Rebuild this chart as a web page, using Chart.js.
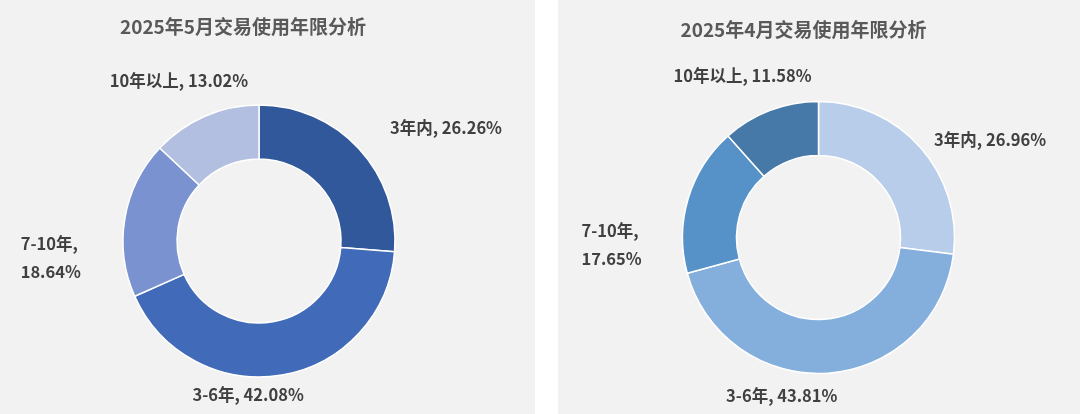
<!DOCTYPE html>
<html>
<head>
<meta charset="utf-8">
<script src="https://cdn.jsdelivr.net/npm/chart.js@4.4.1/dist/chart.umd.min.js"></script>
<style>
  html, body { margin:0; padding:0; background:#ffffff; }
  body { width:1080px; height:414px; position:relative; overflow:hidden; }
  .panel { position:absolute; top:0; height:414px; background:#F2F2F2; }
  #p1 { left:0; width:535px; }
  #p2 { left:558px; width:522px; }
  canvas { display:block; }
</style>
</head>
<body>
<div class="panel" id="p1"><canvas id="c1" width="535" height="414"></canvas></div>
<div class="panel" id="p2"><canvas id="c2" width="522" height="414"></canvas></div>
<script>
const categories = ['3年内', '3-6年', '7-10年', '10年以上'];
const mayValues = [26.26, 42.08, 18.64, 13.02];
const aprValues = [26.96, 43.81, 17.65, 11.58];
const mayTitle = '2025年5月交易使用年限分析';
const aprTitle = '2025年4月交易使用年限分析';

const mayColors = ['#31589A', '#416BB8', '#7A92D0', '#B3BFE0'];
const aprColors = ['#B8CDE9', '#84AEDC', '#5692C8', '#4779A8'];

const FONT = '"Noto Sans CJK SC", "Microsoft YaHei", sans-serif';

// label anchors, relative to donut center in units of outer radius
const mayLabelLayout = [
  {fx: 0.963, fy: -0.83, align: 'left', split: false},
  {fx: -0.08, fy: 1.13, align: 'center', split: false},
  {fx: -1.31, fy: 0.12, align: 'right', split: true},
  {fx: -0.08, fy: -1.175, align: 'right', split: false}
];
const aprLabelLayout = [
  {fx: 0.85, fy: -0.72, align: 'left', split: false},
  {fx: -0.27, fy: 1.16, align: 'center', split: false},
  {fx: -1.30, fy: 0.05, align: 'right', split: true},
  {fx: -0.05, fy: -1.19, align: 'right', split: false}
];

function labelPlugin(title, layout, titleDX, titleY) {
  return {
    id: 'customLabels',
    afterDraw(chart) {
      const ctx = chart.ctx;
      const meta = chart.getDatasetMeta(0);
      const arc0 = meta.data[0];
      const cx = arc0.x, cy = arc0.y, r = arc0.outerRadius;
      ctx.save();
      ctx.fillStyle = '#595959';
      ctx.font = 'bold 19px ' + FONT;
      ctx.textAlign = 'center';
      ctx.textBaseline = 'middle';
      ctx.fillText(title, cx + titleDX, titleY);
      ctx.fillStyle = '#404040';
      ctx.font = 'bold 16.5px ' + FONT;
      const data = chart.data.datasets[0].data;
      meta.data.forEach((arc, i) => {
        const L = layout[i];
        const x = cx + L.fx * r;
        const y = cy + L.fy * r;
        const name = chart.data.labels[i];
        const val = data[i].toFixed(2) + '%';
        ctx.textAlign = L.align;
        if (L.split) {
          ctx.textAlign = 'left';
          const w = Math.max(ctx.measureText(name + ',').width, ctx.measureText(val).width);
          ctx.fillText(name + ',', x - w, y - 14);
          ctx.fillText(val, x - w, y + 14);
        } else {
          ctx.fillText(name + ', ' + val, x, y);
        }
      });
      ctx.restore();
    }
  };
}

function makeChart(id, values, colors, title, layout, padding, titleDX, titleY) {
  return new Chart(document.getElementById(id), {
    type: 'doughnut',
    data: {
      labels: categories,
      datasets: [{
        data: values,
        backgroundColor: colors,
        borderColor: '#ffffff',
        borderWidth: 1.5
      }]
    },
    options: {
      responsive: false,
      animation: false,
      radius: 136,
      cutout: '60.3%',
      layout: { padding: padding },
      plugins: {
        legend: { display: false },
        tooltip: { enabled: false },
        title: { display: false }
      }
    },
    plugins: [labelPlugin(title, layout, titleDX, titleY)]
  });
}

makeChart('c1', mayValues, mayColors, mayTitle, mayLabelLayout,
  {left: 0, right: 17, top: 68, bottom: 0}, -16, 27);
makeChart('c2', aprValues, aprColors, aprTitle, aprLabelLayout,
  {left: 0, right: 1, top: 61, bottom: 0}, -15, 30);
</script>
</body>
</html>
